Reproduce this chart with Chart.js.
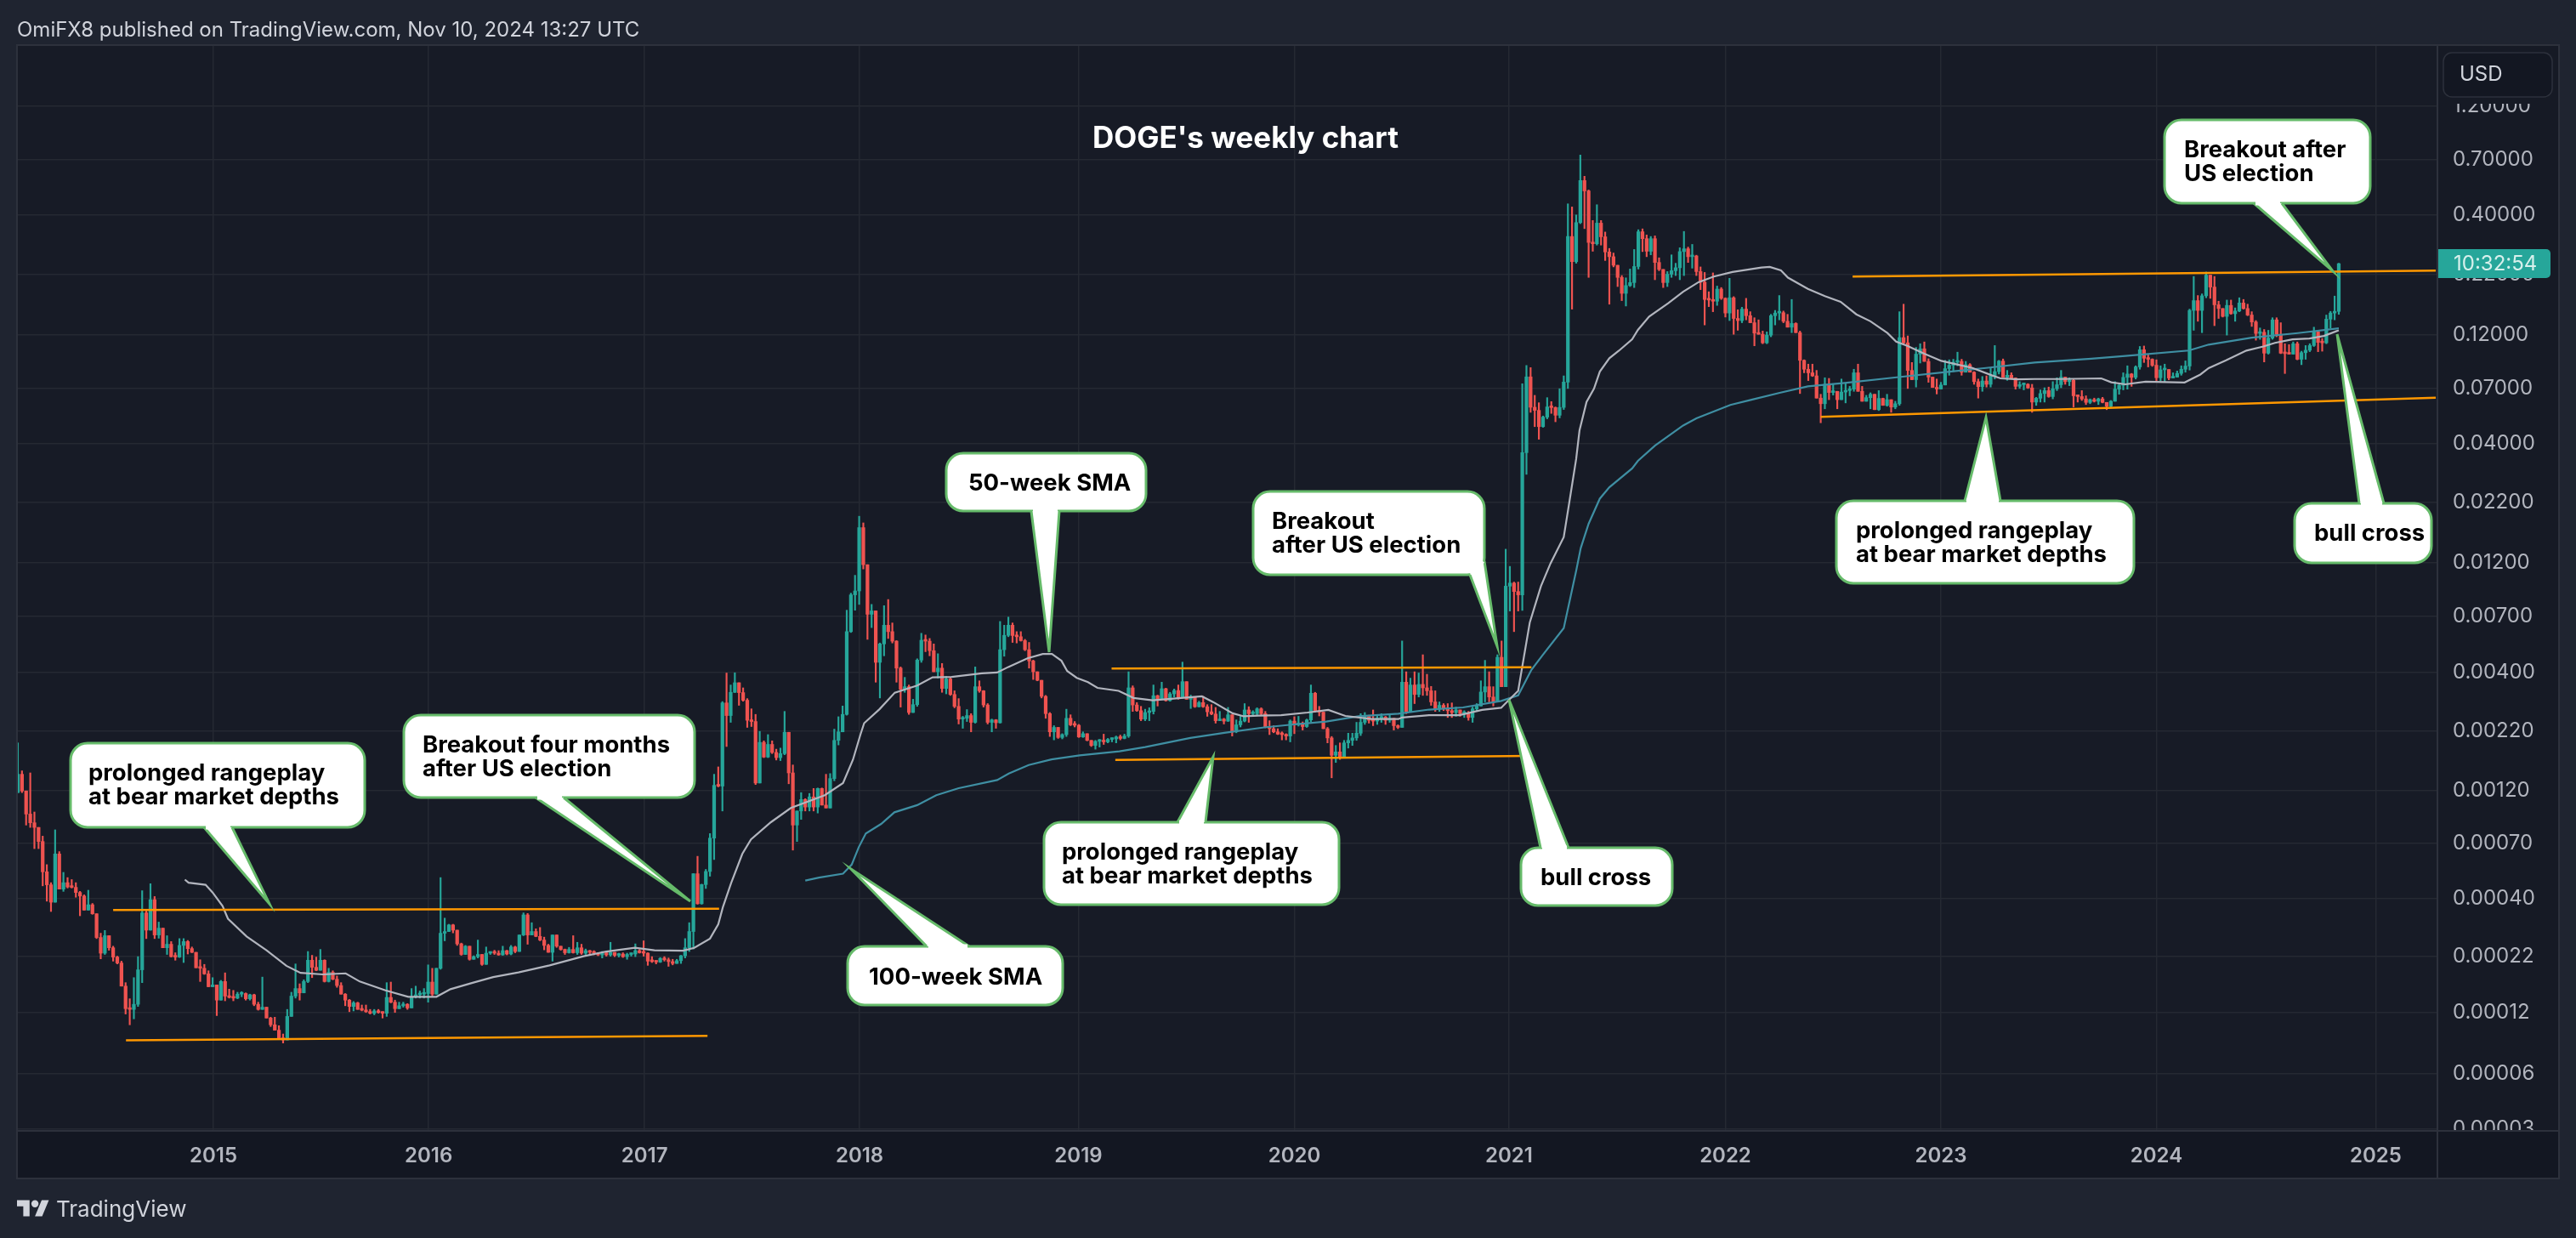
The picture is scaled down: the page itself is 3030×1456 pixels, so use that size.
<!DOCTYPE html>
<html>
<head>
<meta charset="utf-8">
<title>DOGE's weekly chart</title>
<script src="https://cdn.jsdelivr.net/npm/chart.js@4"></script>
<style>
  html, body { margin: 0; padding: 0; background: #1f2430; }
  body { position: relative; width: 3030px; height: 1456px; overflow: hidden; font-family: Inter, sans-serif; }
  canvas { position: absolute; left: 0; top: 0; }
  .header { position: absolute; left: 20px; top: 20px; font-size: 24px; line-height: 30px; color: #d1d4dc; }
  .brand { position: absolute; left: 66px; top: 1404px; font-size: 26px; line-height: 36px; color: #d1d4dc; }
  .logo { position: absolute; left: 20px; top: 1407px; }
</style>
</head>
<body>
<canvas id="chart" width="3030" height="1456"></canvas>
<div class="header">OmiFX8 published on TradingView.com, Nov 10, 2024 13:27 UTC</div>
<svg class="logo" width="38" height="30" viewBox="0 0 36 28"><path fill="#d1d4dc" d="M14 22H7V11H0V4h14v18zM28 22h-8l7.5-18h8L28 22z"/><circle fill="#d1d4dc" cx="20" cy="8" r="4"/></svg>
<div class="brand">TradingView</div>
<script>
// prices are in units of 1e-5 USD so the arrays stay short (219 = 0.00219)
const firstOpen = 118;

// one value per week; each open is the close before it
const closes = [
  142,120,95,87,83,72,53,46.5,39,63.5,
  44.5,47.5,45.5,45.3,43,41.5,36,38,34.7,27.3,
  23.3,27.8,24.6,22.4,21.1,16.7,13.3,13.2,13.9,19.7,
  35,29.4,40,28,30,24.6,25.5,22.5,22.4,25.2,
  26.2,24.4,23.5,20.1,20,18.9,16.6,16.9,14.5,17.5,
  15.1,14.9,14.8,15.4,15.5,14.7,15.3,13.9,13.2,13.5,
  12.1,11.3,10.7,9.9,9.7,12.3,15.1,16.3,15.6,17.5,
  21.7,20.2,19.6,21.7,17.5,19.2,17.9,16.8,15.4,14.5,
  13.6,14.1,13.2,13.1,12.9,12.7,13,12.8,12.7,14.9,
  14.2,13.3,13.7,13.9,13.4,15,15.3,15.4,15.5,17.4,
  15.4,20,28.5,29,31,29.4,25.6,23,25,21.9,
  22.5,23,20.8,23.3,23.5,23.3,22.9,23.9,23.1,24.8,
  23.7,28,34.3,28,29,27.6,26.6,25.2,23.5,28,
  25,24.2,23.4,24.2,23.4,24.6,23.3,23.9,23.5,23.3,
  22.9,23.4,22.9,23.5,22.8,23.1,22.5,23,23.1,23.9,
  23.4,23.3,21.5,21.4,21.3,22.1,21.8,21.4,21,21.6,
  22.7,24.6,29,52,38.4,46.6,53.2,74.5,127,126,
  292,257,325,358,324,300,245,242,130,196,
  169,192,177,168,175,217,144,85,98,110,
  102,113,102,123,104,101,136,200,218,260,
  600,870,905,1716,1180,715,740,440,530,640,
  600,545,415,335,344,265,287,450,550,545,
  495,400,415,338,372,318,282,248,250,257,
  240,344,330,286,240,246,239,500,578,640,
  577,570,548,500,446,400,367,312,262,218,
  228,206,212,250,234,233,207,214,200,190,
  198,199,197,202,203,207,204,209,340,286,
  270,248,265,268,314,303,337,299,320,331,
  307,362,303,310,281,293,281,267,261,244,
  248,243,259,218,234,243,272,262,262,275,
  262,228,225,218,213,212,209,243,234,238,
  230,246,322,268,266,225,205,172,178,170,
  195,200,205,215,240,255,245,243,250,253,
  245,250,232,228,360,268,350,318,352,340,
  330,295,275,285,277,270,265,272,262,262,
  252,275,283,326,344,310,295,463,344,950,
  980,900,870,3660,7870,5790,5610,4760,5240,5810,
  5770,5340,5780,7470,32500,25200,37400,57200,51500,30600,
  30200,37200,32400,27800,26500,24300,21500,18300,19800,20400,
  24000,34100,31800,28000,31800,25000,23300,20400,22200,23000,
  23700,27900,28700,26500,26700,22800,20500,17200,17100,16900,
  19100,17400,15000,17500,14200,13900,15600,14600,13600,12240,
  12100,11100,12000,14600,15000,15050,13800,13000,13500,12300,
  9300,8500,8200,7950,6350,6000,7300,6720,6800,6250,
  6750,6850,6950,8200,6800,6150,6380,6600,5650,6330,
  5900,6250,5800,6000,11700,11100,8400,7650,9900,10450,
  9200,7850,7070,6960,7250,8550,8850,9130,9200,8250,
  8900,8250,7500,7130,7550,7300,7980,8300,9230,7830,
  8000,7780,7150,7270,7300,7040,6100,6340,6650,6850,
  6450,6980,7270,7850,7500,7600,6500,6450,6300,6080,
  6250,6150,6300,6080,5850,6150,6950,7230,7830,8100,
  7830,8700,10350,9500,9400,8850,7800,8450,8480,7780,
  7850,8150,8500,8780,15400,17000,15400,17850,22000,19500,
  16300,15700,14500,16200,14900,15300,16600,15700,14700,13700,
  12200,12350,10000,11650,14000,12100,10000,9950,9900,11000,
  9400,10050,10300,10800,12400,11150,11100,14100,15000,15250,24700,
];

const highs = [
  195,147,120,144,97,83,76,57,47.5,81,
  65,52.7,50,49,47.5,43.5,42,44,38.5,34.7,
  28.5,29.3,27.8,25,22.6,21.5,17.3,14.7,18.2,22.5,
  43.8,35.7,47,41.3,31.9,30,27.8,26.2,23.4,27,
  27,26.5,24.8,23.5,21.8,20.8,19.5,18.2,16.9,17.7,
  19.1,16.2,16,15.7,15.8,15.6,15.4,15.4,14.2,18.3,
  13.5,12.2,12.2,11.2,10.3,13.2,15.7,20.9,17.1,17.8,
  23.7,22.8,22.4,24.2,21.8,20,19.5,18.5,17.3,15.5,
  14.6,14.3,14.2,13.8,13.8,13.2,13.2,13.2,12.9,17.3,
  17.4,14.5,14.2,14.2,14,16.3,16.7,15.9,16.3,20.7,
  20,20,50,33.2,31.2,31.2,29.4,25.8,25.2,25,
  22.7,26.6,23,24.8,23.6,24,23.9,25,24,25.2,
  25,28,35,34.8,31.7,29.8,30.2,27.4,25.5,28,
  27.3,25,24.3,24.7,27.8,26,25.5,24.3,24,23.9,
  23.4,23.7,23.5,26,23.4,23.3,23.4,23.3,23.3,25.6,
  24.2,26.4,23.4,22.5,21.6,22.3,22.5,22.2,21.9,21.9,
  22.8,27,31.7,52,62,46.8,54.3,78,142,153,
  296,395,350,396,358,340,305,275,260,219,
  199,212,199,183,185,268,217,156,98,118,
  111,117,123,123.6,123.6,142,143,224,254,283,
  745,885,1060,1925,1800,1180,790,740,535,780,
  830,655,548,420,378,350,303,456,590,580,
  560,530,480,435,382,378,330,305,255,273,
  262,420,365,331,290,248,247,665,640,695,
  655,600,600,555,538,450,400,367,315,265,
  232,225,214,274,259,242,235,218,214,200,
  200,202,213,204,205,209,211,213,400,347,
  293,282,274,278,350,316,360,339,325,336,
  350,441,362,316,309,297,312,287,287,279,
  268,250,279,258,246,255,290,281,270,278,
  278,268,244,232,225,218,214,246,254,255,
  241,248,350,325,282,264,228,208,190,195,
  200,215,215,240,262,265,258,272,258,262,
  255,258,250,234,546,400,375,400,395,475,
  390,345,330,295,290,290,292,280,272,270,
  268,280,290,365,449,400,344,475,546,1380,
  1160,990,990,7340,8830,8640,6530,6060,5300,6380,
  6130,5810,6980,7950,45200,43800,40400,74000,59700,52000,
  38200,44800,38200,34000,28800,27500,24300,21900,21400,23400,
  28500,34800,35100,33000,32500,32700,26200,23300,22800,27000,
  24800,29000,34200,29200,30000,26900,23900,22600,18600,22500,
  19700,19400,17500,21300,17700,15500,15900,17400,15200,14300,
  14000,12500,12400,14800,15400,17900,15300,14800,17200,13600,
  12500,9350,8950,8950,8400,6600,7800,7750,7300,6800,
  7700,7400,7150,8500,8950,7150,6530,6700,6600,6850,
  6350,6600,6250,6150,15200,16400,11900,9100,10600,11000,
  11200,9450,7850,7700,7450,9300,9350,9400,10100,9400,
  9200,9000,8300,7700,7900,7950,8600,10800,9300,9430,
  8400,8200,7800,7500,7400,7350,7300,6400,6900,7050,
  7100,7500,7800,8400,7850,7800,7700,6550,6850,6500,
  6300,6350,6350,6400,6080,6200,7500,7350,8200,8800,
  8150,8800,10700,10750,9900,9450,9350,8800,8950,8450,
  8200,8350,8800,9250,15600,21700,17900,18200,22700,22000,
  21700,16900,15700,17100,17100,15800,17500,17200,16400,15200,
  13900,12900,12700,12600,14300,14300,13600,11000,10900,11200,
  11200,10200,10800,11000,13000,12450,11600,14700,15250,17800,24800,
];

const lows = [
  118,118,85,83,67,67,46,39.4,35.5,39,
  44.5,43.5,45,45,41,34,36,36,34.5,27,
  22,23,24,21.5,20.9,16.7,12.6,11.3,12,13.6,
  17.3,27,29.4,27,27.1,24.6,23,22.4,21.7,22.3,
  21.2,23.1,23.4,20.1,17.5,18.8,16.6,16.7,12.4,14.5,
  14.4,14.8,14.4,14.7,15,14.5,14.5,13.7,13.1,13.2,
  12.1,11.1,10.7,9.8,9.4,9.7,12.3,14.8,14.5,15.6,
  17.3,18.2,19.5,19.6,17.4,17.4,17.8,16.5,15.4,13.7,
  12.9,13,13.2,13,12.8,12.6,12.5,12.7,12.1,12.3,
  14.1,12.8,13.3,13.5,13.2,13.5,14.8,14.8,14.8,14.2,
  15.1,15.4,19.8,26.4,29,28.6,25.2,22.8,23,21.7,
  21.9,22.2,20.6,20.8,23,23,22.8,22.8,22.9,22.9,
  23.4,24.1,27.8,25.5,28.4,27.5,26.4,24.1,23.5,21.5,
  24.7,24,23,23.3,23.3,23,23,23,23,22.9,
  22.7,22.2,22.6,22.6,22.5,22.4,22.3,21.9,22.6,22.5,
  23.3,22.6,20.6,21.2,20.9,21.2,21.5,20.4,20.7,21,
  21,22.2,23.7,24.3,38.2,38.2,44.8,50.7,60,125,
  98,188,240,324,285,297,228,230,128,130,
  168,168,175,164,163,173,129,66,72,90,
  98,98,98,96,104,101,101,133,191,218,
  258,595,745,790,1130,555,625,360,307,470,
  560,535,360,280,325,260,265,282,440,490,
  470,400,375,325,320,315,278,236,226,242,
  218,238,325,280,236,218,226,238,468,570,
  538,535,545,495,415,370,365,307,250,208,
  201,204,203,208,232,229,206,206,199,188,
  183,187,192,195,197,195,201,203,206,268,
  268,244,244,244,261,283,303,297,297,310,
  303,307,303,276,279,280,279,255,259,238,
  246,236,242,209,216,229,241,240,259,259,
  259,227,212,216,212,201,201,197,214,231,
  222,228,241,266,256,225,195,137,160,165,
  170,185,190,200,210,235,238,232,235,240,
  235,240,222,225,228,262,310,290,310,315,
  315,285,268,268,270,252,252,255,255,252,
  245,240,270,283,295,295,283,318,344,399,
  739,600,739,744,2940,5500,4760,4190,4730,5150,
  5440,5000,5200,5660,7000,15600,24800,37000,35200,21500,
  28000,29800,29800,25500,16400,23900,19600,17000,16100,19600,
  19400,23400,27900,26500,27000,21000,23000,19400,19600,21500,
  21900,21000,21900,25000,23600,21900,19000,13300,16000,15200,
  16200,17200,14400,13900,12100,12600,13600,14000,13600,10770,
  12100,11000,11000,11800,13300,14000,13600,13000,12300,12300,
  6650,8200,7580,7900,6350,4950,5700,6250,6550,5700,
  6250,6050,6500,6800,6800,6150,6150,5700,5650,5600,
  5900,5850,5500,5700,5900,11000,7000,7650,7100,9050,
  9200,7450,7070,6620,6950,7250,8000,8300,8800,8000,
  8250,8250,7300,6350,6800,7100,7100,7700,8100,7830,
  7600,7700,6950,7000,6900,7000,5500,5900,6100,6100,
  6400,6300,6850,7050,7300,7200,5800,6100,6200,5950,
  6000,6100,5950,6050,5650,5750,6150,6600,6900,6950,
  7150,7700,8500,9100,8700,8750,7580,7550,7500,7640,
  7800,7850,8000,8250,8430,12600,13800,12300,17500,17400,
  13200,14200,14400,12000,14800,13800,15200,15600,14600,13100,
  11400,11500,9150,9900,11500,11800,9950,8140,9900,9900,
  9350,8900,9400,10150,10700,10150,10200,11000,12900,14000,14800,
];

// moving averages, read at the week indices beside them
const sma50Weeks = [40.3,41.2,45.3,47,49.4,50.7,55.2,60,64.8,68.2,73.6,79.1,82.5,88.7,94.2,101,104.4,109.9,114.7,120.8,128.3,136.5,142,148.9,153.6,160.5,163.2,167,169,170.1,172.1,174.8,176.9,181.7,186.5,194.7,199.1,201.5,203.3,204.2,207.9,211.6,217,220.7,225.3,232.6,236.3,239,243.6,247.3,249.5,251.8,253.2,255.5,258.2,260.5,265.6,269.2,273.8,285.7,288.5,293.1,295.8,299.3,304.8,311.2,316.2,320.3,326.7,333.1,334,340.5,347.8,353.3,357.9,359.3,362,363.4,364.8,367.5,369.8,373,374.4,376,376.8,378.5,380.3,381.7,384,386.3,389.5,390.9,393.6,398.2,401.8,405.5,409.2,413.7,420.7,422.7,425.4,427.1,431.9,436,439.8,443.6,447,451.1,453.2,455.9,460,464.1,471.6,476.4,478.4,482.6,486.6,492.8,502.7,505.1,508.5,513.4,522.8,526.6,528.6,532.8,537.7,541.8,544.6,548.8,552.9,556.4,559.5,560];
const sma50Values = [49,47.5,46.5,43,37.5,33,27.6,24,20.5,19.1,18.8,19,17.5,16,15,15,16.2,17.3,18.3,19.2,20.6,22.6,23.7,24.6,24,23.9,24.6,27,31.2,37,47.3,63.5,73.6,87.5,101,115,130,164.5,212,238,274,324,348,378,380,394,397,420,458,479,479,447,403,376,360,340,330,307,300,312,294,263,255,257,258,265,272,256,248,248,252,258,258,272,278,295,330,466,657,950,1195,1560,2250,3436,4580,6110,6990,8300,9500,10250,11500,12650,14480,16570,18600,20480,21680,22700,23750,23900,23100,21450,19140,17800,16800,14800,13800,12250,11240,10770,9950,9250,8610,7980,7750,7680,7700,7700,7750,7450,7300,7500,7440,8060,8600,9300,10260,10700,11100,11500,11600,11900,12500,12600];

const sma100Weeks = [190,193.3,199.1,201.2,202.9,204.6,208.3,211.5,217,221.6,227,236.3,239.1,243.9,249.4,256.2,265.8,272,282.9,291.1,300.7,306.8,315.7,323.5,333.1,340.5,348.7,357.9,362,365.2,368,373,376,377.1,379,381.7,384,389.5,390.9,395,401.8,405,413.2,418.3,425.1,431.9,440.8,453.8,466.1,474.9,486.6,500.3,508.5,523.8,528.6,539,550.1,560];
const sma100Values = [48.5,50,52,57,68,78,86,96.7,104,115,123.4,134,143,156,165,172,179,187,205,216,228,234,242,255,262,273,279,298,315,408,476,622,1110,1395,1785,2300,2580,3120,3370,3930,4815,5180,5925,6250,6700,7150,7400,7850,8300,8610,9100,9450,9730,10270,10900,11700,12250,12850];

// orange trendlines: [week, price] pairs
const rangeLines = [
  [[23, 36], [169.2, 36.5]],
  [[26.1, 9.66], [166.4, 10.1]],
  [[263.9, 413], [365.2, 419]],
  [[264.8, 164], [364.7, 171]],
  [[442.7, 21700], [583.4, 23050]],
  [[435, 5250], [583.4, 6370]],
];

const yearWeeks = [47.2, 99.1, 151.2, 203.1, 255.9, 308, 359.8, 412, 464, 516, 568.9];
const yearLabels = ['2015', '2016', '2017', '2018', '2019', '2020', '2021', '2022', '2023', '2024', '2025'];

// TradingView rounds its axis labels, so the grid sits a little off the printed value
const priceTicks = [121000, 70750, 40470, 22080, 12000, 6980, 3995, 2208, 1200, 698, 399, 219, 120, 70.5, 40.6, 22.6, 12.8, 6.92, 3.93];
const priceLabels = ['1.20000', '0.70000', '0.40000', '0.22000', '0.12000', '0.07000', '0.04000', '0.02200', '0.01200', '0.00700', '0.00400', '0.00220', '0.00120', '0.00070', '0.00040', '0.00022', '0.00012', '0.00006', '0.00003'];

const callouts = [
  { box: [83, 874, 346, 99], base: [[240, 973], [273, 973]], tip: [317, 1063], textX: 104, lines: ['prolonged rangeplay', 'at bear market depths'] },
  { box: [475, 841, 342, 97], base: [[630, 938], [663, 938]], tip: [812, 1060], textX: 497, lines: ['Breakout four months', 'after US election'] },
  { box: [1113, 533, 235, 68], base: [[1213, 601], [1246, 601]], tip: [1234, 767], textX: 1139, lines: ['50-week SMA'], baseline: 577 },
  { box: [1474, 578, 272, 98], base: [[1729, 676], [1746, 660]], tip: [1761, 760], textX: 1496, lines: ['Breakout', 'after US election'] },
  { box: [1228, 967, 347, 97], base: [[1385, 967], [1418, 967]], tip: [1427, 890], textX: 1249, lines: ['prolonged rangeplay', 'at bear market depths'] },
  { box: [997, 1113, 253, 69], base: [[1090, 1113], [1140, 1113]], tip: [1001, 1022], textX: 1022, lines: ['100-week SMA'], baseline: 1158 },
  { box: [1789, 997, 178, 68], base: [[1812, 997], [1845, 997]], tip: [1775, 823], textX: 1812, lines: ['bull cross'], baseline: 1041 },
  { box: [2546, 141, 242, 98], base: [[2651, 239], [2684, 239]], tip: [2744, 319], textX: 2569, lines: ['Breakout after', 'US election'] },
  { box: [2160, 589, 350, 97], base: [[2311, 589], [2353, 589]], tip: [2336, 491], textX: 2183, lines: ['prolonged rangeplay', 'at bear market depths'] },
  { box: [2699, 592, 161, 70], base: [[2775, 592], [2804, 592]], tip: [2749, 393], textX: 2722, lines: ['bull cross'], baseline: 636 },
];

const GREEN = '#26a69a';
const RED = '#ef5350';
const GRID = '#252932';
const BORDER = '#2d313c';
const TEXT = '#b2b5be';

const opens = closes.map((c, i) => (i === 0 ? firstOpen : closes[i - 1]));
const candleColors = closes.map((c, i) => (c >= opens[i] ? GREEN : RED));

const wickData = closes.map((c, i) => ({
  x: i,
  y: [Math.min(lows[i], opens[i], c), Math.max(highs[i], opens[i], c)],
}));
const bodyData = closes.map((c, i) => ({ x: i, y: [Math.min(opens[i], c), Math.max(opens[i], c)] }));

function lineDataset(data, color, width, order) {
  return {
    type: 'line',
    data,
    borderColor: color,
    borderWidth: width,
    pointRadius: 0,
    tension: 0,
    order,
  };
}

function drawCallout(ctx, c) {
  const [x, y, w, h] = c.box;
  ctx.save();
  ctx.fillStyle = '#ffffff';
  ctx.strokeStyle = '#66bb6a';
  ctx.lineWidth = 3;
  ctx.beginPath();
  ctx.roundRect(x, y, w, h, 20);
  ctx.fill();
  ctx.stroke();

  ctx.beginPath();
  ctx.moveTo(c.base[0][0], c.base[0][1]);
  ctx.lineTo(c.tip[0], c.tip[1]);
  ctx.lineTo(c.base[1][0], c.base[1][1]);
  ctx.fill();
  ctx.stroke();

  // wipe the box border under the tail
  ctx.strokeStyle = '#ffffff';
  ctx.lineWidth = 5;
  ctx.beginPath();
  ctx.moveTo(c.base[0][0] + 2, c.base[0][1]);
  ctx.lineTo(c.base[1][0] - 2, c.base[1][1]);
  ctx.stroke();

  ctx.fillStyle = '#000000';
  ctx.font = '700 27.5px Inter';
  ctx.textBaseline = 'alphabetic';
  ctx.textAlign = 'left';
  const first = c.baseline || y + 44;
  c.lines.forEach((line, i) => ctx.fillText(line, c.textX, first + i * 28));
  ctx.restore();
}

const panels = {
  id: 'panels',
  beforeDraw(chart) {
    const { ctx, chartArea: a } = chart;
    ctx.save();
    ctx.fillStyle = '#1f2430';
    ctx.fillRect(0, 0, 3030, 1456);
    ctx.fillStyle = '#171b26';
    ctx.fillRect(a.left, a.top, a.right - a.left, a.bottom - a.top);
    ctx.fillStyle = '#161a25';
    ctx.fillRect(a.right, a.top, 143, a.bottom - a.top);
    ctx.fillStyle = '#131722';
    ctx.fillRect(a.left, a.bottom, 2990, 56);
    ctx.restore();
  },
  afterDraw(chart) {
    const { ctx, chartArea: a } = chart;
    ctx.save();

    // the lowest price label is cut off by the time axis
    ctx.fillStyle = '#131722';
    ctx.fillRect(a.right, a.bottom, 143, 56);

    ctx.strokeStyle = BORDER;
    ctx.lineWidth = 2;
    ctx.strokeRect(a.left, a.top, 2990, 1333);
    ctx.beginPath();
    ctx.moveTo(a.right, a.top);
    ctx.lineTo(a.right, a.bottom + 56);
    ctx.moveTo(a.left, a.bottom);
    ctx.lineTo(a.right + 143, a.bottom);
    ctx.stroke();

    ctx.fillStyle = '#ffffff';
    ctx.font = '700 35px Inter';
    ctx.textAlign = 'center';
    ctx.textBaseline = 'alphabetic';
    ctx.fillText("DOGE's weekly chart", 1465, 174);

    callouts.forEach((c) => drawCallout(ctx, c));

    // countdown flag on the price axis
    ctx.fillStyle = GREEN;
    ctx.beginPath();
    ctx.roundRect(2868, 293, 132, 34, [0, 5, 5, 0]);
    ctx.fill();
    ctx.fillStyle = '#d7f0ec';
    ctx.font = '24px Inter';
    ctx.textAlign = 'left';
    ctx.textBaseline = 'middle';
    ctx.fillText('10:32:54', 2886, 311);

    // currency button, it hides the top half of the 1.20000 label
    ctx.fillStyle = '#161a25';
    ctx.fillRect(2869, 55, 139, 67);
    ctx.fillStyle = '#131722';
    ctx.strokeStyle = BORDER;
    ctx.lineWidth = 1.5;
    ctx.beginPath();
    ctx.roundRect(2874, 62, 128, 52, 10);
    ctx.fill();
    ctx.stroke();
    ctx.fillStyle = '#d1d4dc';
    ctx.fillText('USD', 2893, 88);
    ctx.restore();
  },
};

const datasets = [
  ...rangeLines.map((l) => lineDataset(l.map(([x, y]) => ({ x, y })), '#ff9800', 2.5, 0)),
  lineDataset(sma50Weeks.map((x, i) => ({ x, y: sma50Values[i] })), '#b2b5be', 2.2, 1),
  lineDataset(sma100Weeks.map((x, i) => ({ x, y: sma100Values[i] })), '#3f8fa3', 2.2, 1),
  {
    data: bodyData,
    backgroundColor: candleColors,
    barThickness: 3.6,
    minBarLength: 2,
    grouped: false,
    order: 2,
  },
  {
    data: wickData,
    backgroundColor: candleColors,
    barThickness: 1.5,
    minBarLength: 1,
    grouped: false,
    order: 3,
  },
];

new Chart(document.getElementById('chart'), {
  type: 'bar',
  data: { datasets },
  plugins: [panels],
  options: {
    responsive: false,
    animation: false,
    events: [],
    layout: { autoPadding: false, padding: { left: 20, right: 20, top: 53, bottom: 70 } },
    plugins: { legend: { display: false }, tooltip: { enabled: false } },
    scales: {
      x: {
        type: 'linear',
        offset: false,
        min: -0.2,
        max: 583.8,
        border: { display: false },
        grid: { color: GRID, lineWidth: 1.5, drawTicks: false, offset: false },
        afterBuildTicks: (scale) => { scale.ticks = yearWeeks.map((value) => ({ value })); },
        afterFit: (scale) => { scale.height = 56; },
        ticks: {
          autoSkip: false,
          maxRotation: 0,
          padding: 15,
          color: TEXT,
          font: { family: 'Inter', size: 24, weight: '600' },
          callback: (v) => yearLabels[yearWeeks.indexOf(v)],
        },
      },
      y: {
        type: 'logarithmic',
        position: 'right',
        min: 3.87,
        max: 224800,
        border: { display: false },
        grid: { color: GRID, lineWidth: 1.5, drawTicks: false },
        afterBuildTicks: (scale) => { scale.ticks = priceTicks.map((value) => ({ value })); },
        afterFit: (scale) => { scale.width = 143; },
        ticks: {
          autoSkip: false,
          padding: 18,
          color: TEXT,
          font: { family: 'Inter', size: 24 },
          callback: (v) => priceLabels[priceTicks.indexOf(v)],
        },
      },
    },
  },
});
</script>
</body>
</html>
